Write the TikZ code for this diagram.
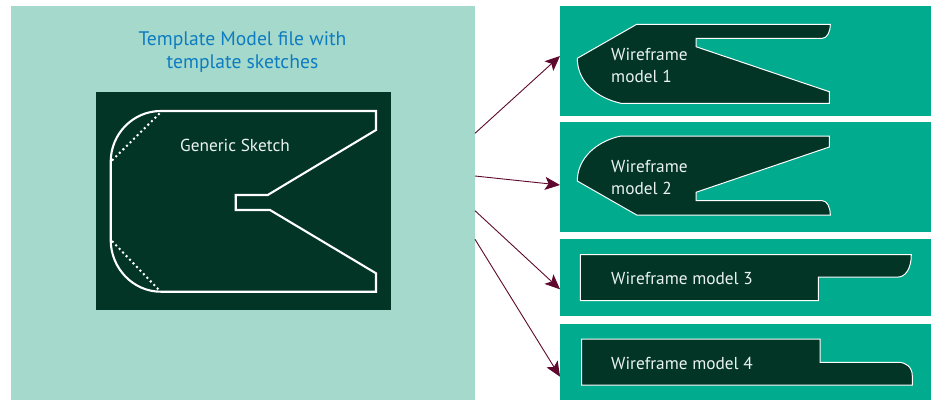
\documentclass[tikz,border=0pt]{standalone}
\usepackage{fontspec}
\setmainfont{PT Sans}
\usetikzlibrary{arrows.meta}
\definecolor{lightpanel}{HTML}{A5D9CB}
\definecolor{darkpanel}{HTML}{033527}
\definecolor{greenpanel}{HTML}{00AB8E}
\definecolor{arrowcol}{HTML}{5E0A2E}
\definecolor{titlecol}{HTML}{0E7CC0}
\definecolor{textcol}{HTML}{EAF3EF}
\tikzset{
  panel/.style={draw=none,inner sep=0pt,outer sep=0pt},
  wire/.style={draw=white,fill=darkpanel,line width=1pt,line join=miter},
  generic/.style={draw=white,line width=2.1pt,line join=miter},
  dots/.style={draw=white,line width=2pt,dash pattern=on 2pt off 3pt},
  lbl/.style={text=textcol,font=\fontsize{17.3}{22}\selectfont,anchor=west,align=left,inner sep=0pt},
  link/.style={draw=arrowcol,line width=0.9pt,-{Stealth[length=15pt,width=13pt,inset=3.5pt]}}
}
\begin{document}
\begin{tikzpicture}[x=1pt,y=-1pt]
\useasboundingbox (0,0) rectangle (935,400);
\fill[white] (0,0) rectangle (935,400);
\node[panel,fill=lightpanel,minimum width=464pt,minimum height=394pt] (big) at (243,203) {};
\node[panel,fill=darkpanel,minimum width=295pt,minimum height=218pt] (sketchbg) at (243.5,201) {};
\node[panel,fill=greenpanel,minimum width=371pt,minimum height=110pt] (w1) at (745.5,61) {};
\node[panel,fill=greenpanel,minimum width=371pt,minimum height=110pt] (w2) at (745.5,177) {};
\node[panel,fill=greenpanel,minimum width=371pt,minimum height=77pt] (w3) at (745.5,277.5) {};
\node[panel,fill=greenpanel,minimum width=371pt,minimum height=76pt] (w4) at (745.5,362) {};
% generic sketch
\draw[generic] (160.7,111) -- (376,111) -- (376,130) -- (267.7,195) -- (235.7,195) -- (235.7,210) -- (270,210) -- (376,273.3) -- (376,291.7) -- (160.7,291.7)
  .. controls (133,291.7) and (110.7,268) .. (110.7,240) -- (110.7,161.7)
  .. controls (110.7,134) and (133,111) .. (160.7,111) -- cycle;
\draw[dots] (112,160.5) -- (160,113);
\draw[dots] (112,241) -- (159.5,290.5);
% wireframes
\draw[wire] (636.7,24.3) -- (830.3,24.3) .. controls (830.3,32) and (827,38.3) .. (822.3,38.3) -- (696,38.3) -- (696,46.7) -- (829.3,91.7) -- (829.3,103.3) -- (621,103.3)
  .. controls (597,98) and (577.3,82) .. (577.3,58.3) -- cycle;
\draw[wire] (621,136) -- (829.3,136) -- (829.3,147) -- (696,192.3) -- (696,200.7) -- (822.3,200.7) .. controls (827,200.7) and (830.3,207) .. (830.3,215) -- (636.7,215) -- (577.3,181)
  .. controls (577.3,158) and (597,141) .. (621,136) -- cycle;
\draw[wire] (580.3,254.7) -- (911.3,254.7) .. controls (911.3,269) and (905,277) .. (898.3,277) -- (818.3,277) -- (818.3,300.7) -- (580.3,300.7) -- cycle;
\draw[wire] (581.7,339) -- (820,339) -- (820,362.3) -- (898.3,362.3) .. controls (906,362.3) and (912.3,367) .. (912.3,376) -- (912.3,385) -- (581.7,385) -- cycle;
% texts
\node[text=titlecol,font=\fontsize{19.6}{23}\selectfont,align=center,inner sep=0pt] (title) at (242.5,52) {Template Model file with\\template sketches};
\node[lbl] (gs) at (180,145) {Generic Sketch};
\node[lbl] (l1) at (611,65) {Wireframe\\model 1};
\node[lbl] (l2) at (611,177) {Wireframe\\model 2};
\node[lbl] (l3) at (611,278.5) {Wireframe model 3};
\node[lbl] (l4) at (611,363.5) {Wireframe model 4};
% connectors
\draw[link] ([yshift=69.7pt]big.east) -- ([yshift=5pt]w1.west);
\draw[link] ([yshift=27pt]big.east) -- ([yshift=-8pt]w2.west);
\draw[link] ([yshift=-7.7pt]big.east) -- ([yshift=-11.8pt]w3.west);
\draw[link] ([yshift=-36.3pt]big.east) -- ([yshift=-14.7pt]w4.west);
\end{tikzpicture}
\end{document}
